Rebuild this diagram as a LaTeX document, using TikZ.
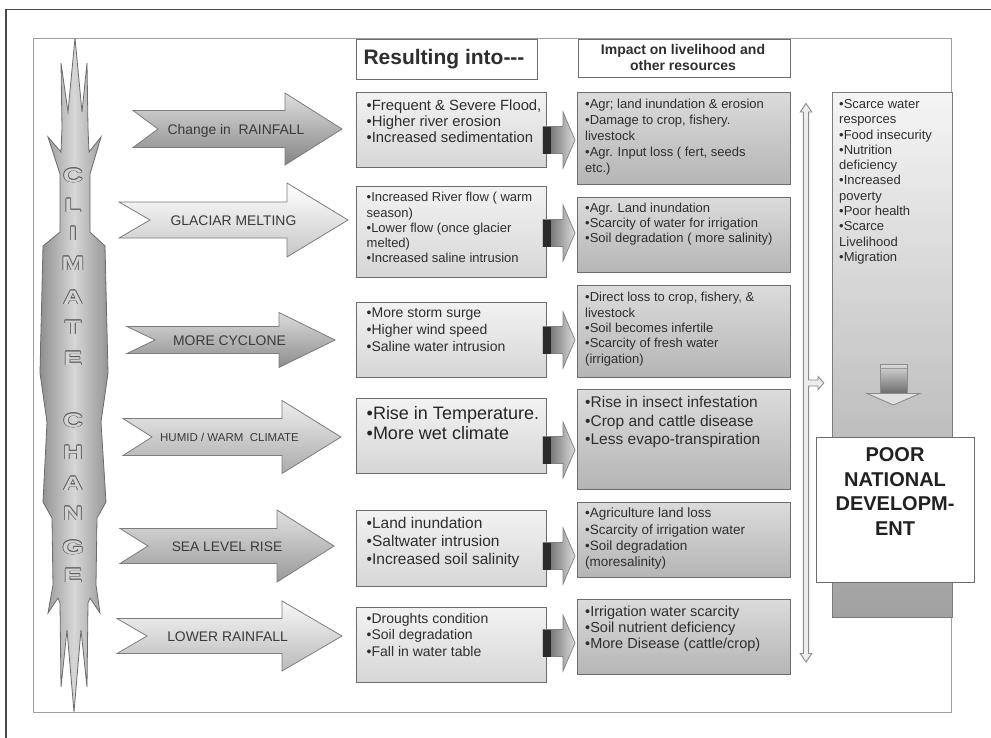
\documentclass[tikz,border=0pt]{standalone}
\usepackage{fontspec}
\setmainfont{Liberation Sans}
\newfontfamily\widebold[FakeStretch=1.4]{Liberation Sans Bold}
\usetikzlibrary{shadows}

\definecolor{ink}{HTML}{2E2E2E}
\definecolor{arrowink}{HTML}{3A3A3A}
\definecolor{frameout}{HTML}{4A4A4A}
\definecolor{framein}{HTML}{A0A0A0}
\definecolor{boxline}{HTML}{6C6C6C}
\definecolor{chevline}{HTML}{7C7C7C}
\definecolor{letterline}{HTML}{5E5E5E}
\definecolor{letterfill}{HTML}{D2D2D2}
\definecolor{spineline}{HTML}{8C8C8C}

% outlined capitals for the vertical title
\newcommand\hollowletter[1]{%
  \rlap{\kern-0.8pt\textcolor{letterline}{#1}}%
  \rlap{\kern0.8pt\textcolor{letterline}{#1}}%
  \rlap{\raisebox{0.8pt}{\textcolor{letterline}{#1}}}%
  \rlap{\raisebox{-0.8pt}{\textcolor{letterline}{#1}}}%
  \rlap{\kern0.6pt\raisebox{0.6pt}{\textcolor{letterline}{#1}}}%
  \rlap{\kern-0.6pt\raisebox{-0.6pt}{\textcolor{letterline}{#1}}}%
  \rlap{\kern0.6pt\raisebox{-0.6pt}{\textcolor{letterline}{#1}}}%
  \rlap{\kern-0.6pt\raisebox{0.6pt}{\textcolor{letterline}{#1}}}%
  \textcolor{letterfill}{#1}}
\newcommand\fsz[2]{\fontsize{#1}{#2}\selectfont}

% block arrow linking a cause box to its impact box (argument: centre y)
\newcommand\linkarrow[1]{%
  \draw[linkbody] (543,#1-13.5) -- (563,#1-13.5) -- (563,#1-28) -- (575,#1)
     -- (563,#1+28) -- (563,#1+13.5) -- (543,#1+13.5) -- cycle;
  \fill[linkdark] (543,#1-13.5) rectangle (550.5,#1+13.5);}

% notched chevron: left x, notch x, head x, tip x, centre y, shaft half, head half, style
\newcommand\chevron[8]{%
  \draw[chev,#8] (#1,#5-#6) -- (#3,#5-#6) -- (#3,#5-#7) -- (#4,#5) -- (#3,#5+#7)
     -- (#3,#5+#6) -- (#1,#5+#6) -- (#2,#5) -- cycle;}

\tikzset{
  outerframe/.style={draw=frameout, line width=1.4pt},
  innerframe/.style={draw=framein, line width=1pt},
  boxshadow/.style={drop shadow={shadow xshift=1.3pt, shadow yshift=-1.3pt, fill=black!45, opacity=.9}},
  headbox/.style={draw=boxline, fill=white, line width=0.8pt, inner sep=0pt, boxshadow},
  causebox/.style={draw=boxline, line width=0.9pt, top color=white!95!black, bottom color=white!84!black, inner sep=0pt, boxshadow},
  impactbox/.style={draw=boxline, line width=0.9pt, top color=white!86!black, bottom color=white!71!black, inner sep=0pt, boxshadow},
  resultcol/.style={draw=boxline!90, line width=0.9pt, top color=white!96!black, bottom color=white!63!black, inner sep=0pt},
  endbox/.style={draw=boxline, fill=white, line width=0.9pt, inner sep=0pt},
  bullets/.style={anchor=north west, inner sep=0pt, align=left, text=ink},
  chev/.style={draw=chevline, line width=0.8pt},
  chevtext/.style={anchor=base, inner sep=0pt, text=arrowink},
  spelled/.style={anchor=base, inner sep=0pt, font=\widebold\fsz{19.5}{20}},
  linkbody/.style={draw=white!50!black, line width=0.7pt, left color=white!35!black, right color=white!86!black},
  linkdark/.style={fill=white!17!black},
  hollowarrow/.style={draw=spineline, fill=white!93!black, line width=0.9pt},
  spike/.style={draw=white!42!black, line width=0.8pt, left color=white!56!black, right color=white!58!black, middle color=white!84!black},
}

\begin{document}
\begin{tikzpicture}[x=1pt,y=-1pt]
\fill[white] (0,0) rectangle (991,737);
\path[use as bounding box] (0,0) rectangle (991,737);
\clip (0,0) rectangle (991,737);

% frames
\draw[outerframe] (6,9.5) rectangle (1010,760);
\draw[innerframe] (33,38) rectangle (951.5,712);

% vertical "climate change" bolt
\path[spike] (75,38) -- (82,112) -- (87,63) -- (88,128) -- (89,152) -- (101,137)
  -- (90,174) -- (90,232) -- (105,246) -- (107,330) -- (108,373) -- (101,422)
  -- (106,502) -- (97,518) -- (96,585) -- (100,613) -- (90,598) -- (88,603)
  -- (87,687) -- (81,630) -- (74,712) -- (67,630) -- (61,687) -- (60,603)
  -- (58,598) -- (48,613) -- (53,585) -- (52,518) -- (43,502) -- (47,422)
  -- (40,373) -- (41,330) -- (43,246) -- (60,232) -- (60,174) -- (48,137)
  -- (61,152) -- (62,128) -- (61,63) -- (68,112) -- cycle;
\node[spelled] (l1) at (73,182) {\hollowletter{C}};
\node[spelled] (l2) at (73,212) {\hollowletter{L}};
\node[spelled] (l3) at (73,240) {\hollowletter{I}};
\node[spelled] (l4) at (73,270) {\hollowletter{M}};
\node[spelled] (l5) at (73,304) {\hollowletter{A}};
\node[spelled] (l6) at (73,334) {\hollowletter{T}};
\node[spelled] (l7) at (73,365) {\hollowletter{E}};
\node[spelled] (l8) at (73,427) {\hollowletter{C}};
\node[spelled] (l9) at (73,459) {\hollowletter{H}};
\node[spelled] (l10) at (73,490) {\hollowletter{A}};
\node[spelled] (l11) at (73,520) {\hollowletter{N}};
\node[spelled] (l12) at (73,554) {\hollowletter{G}};
\node[spelled] (l13) at (73,582) {\hollowletter{E}};

% driver chevrons
\chevron{133}{158}{285}{342}{129}{18.5}{36}{top color=white!87!black, bottom color=white!52!black}
\chevron{119}{150}{287}{348}{220}{18}{37}{top color=white, bottom color=white!78!black}
\chevron{127}{155}{279}{335}{340}{13.5}{27.5}{top color=white!86!black, bottom color=white!55!black}
\chevron{123}{152}{282}{341}{437}{18.5}{36.5}{top color=white!93!black, bottom color=white!67!black}
\chevron{120}{148}{277}{334}{546}{17.5}{36}{top color=white!88!black, bottom color=white!60!black}
\chevron{117}{147}{282}{342}{636}{17.5}{35}{top color=white!97!black, bottom color=white!73!black}
\node[chevtext, font=\fsz{13.9}{15}] (d1) at (236,134) {Change in~ RAINFALL};
\node[chevtext, font=\fsz{13.9}{15}] (d2) at (233.5,225) {GLACIAR MELTING};
\node[chevtext, font=\fsz{13.9}{15}] (d3) at (229.5,345) {MORE CYCLONE};
\node[chevtext, font=\fsz{11.5}{13}] (d4) at (229.5,441.1) {HUMID / WARM~ CLIMATE};
\node[chevtext, font=\fsz{13.8}{15}] (d5) at (227,551) {SEA LEVEL RISE};
\node[chevtext, font=\fsz{13.9}{15}] (d6) at (227.5,641) {LOWER RAINFALL};

% column headers
\node[headbox, minimum width=181pt, minimum height=40pt] (hres) at (446.5,59) {};
\node[anchor=base, inner sep=0pt, text=ink, font=\bfseries\fsz{21}{24}] (hrest) at (444,64.2) {Resulting into-{}-{}-};
\node[headbox, minimum width=212pt, minimum height=38pt] (himp) at (684,58) {};
\node[anchor=north, inner sep=0pt, align=center, text=ink, font=\bfseries\fsz{14}{16}] (himpt) at (683,43.8) {Impact on livelihood and\\other resources};

% resulting effects
\node[causebox, minimum width=190pt, minimum height=75pt] (r1) at (451,129.5) {};
\node[causebox, minimum width=190pt, minimum height=91pt] (r2) at (451,231.5) {};
\node[causebox, minimum width=190pt, minimum height=75pt] (r3) at (451,339.5) {};
\node[causebox, minimum width=190pt, minimum height=75pt] (r4) at (451,435.5) {};
\node[causebox, minimum width=190pt, minimum height=76pt] (r5) at (451,548) {};
\node[causebox, minimum width=190pt, minimum height=75pt] (r6) at (451,644.5) {};

\node[bullets, font=\fsz{14.8}{16}] (r1t) at (366.5,99.5) {•Frequent \& Severe Flood,\\•Higher river erosion\\•Increased sedimentation};
\node[bullets, font=\fsz{13}{15.25}] (r2t) at (366.5,192.2) {•Increased River flow ( warm\\season)\\•Lower flow (once glacier\\melted)\\•Increased saline intrusion};
\node[bullets, font=\fsz{14}{17}] (r3t) at (366.5,307.8) {•More storm surge\\•Higher wind speed\\•Saline water intrusion};
\node[bullets, font=\fsz{18}{20}, text=black!85] (r4t) at (366.5,406.3) {•Rise in Temperature.\\•More wet climate};
\node[bullets, font=\fsz{15.5}{18}] (r5t) at (366.5,517.3) {•Land inundation\\•Saltwater intrusion\\•Increased soil salinity};
\node[bullets, font=\fsz{14}{16.5}] (r6t) at (366.5,612.8) {•Droughts condition\\•Soil degradation\\•Fall in water table};

% impacts
\node[impactbox, minimum width=213pt, minimum height=92pt] (i1) at (683.5,138) {};
\node[impactbox, minimum width=213pt, minimum height=75pt] (i2) at (683.5,234.5) {};
\node[impactbox, minimum width=213pt, minimum height=92pt] (i3) at (683.5,331) {};
\node[impactbox, minimum width=213pt, minimum height=100pt] (i4) at (683.5,439) {};
\node[impactbox, minimum width=213pt, minimum height=75pt] (i5) at (683.5,539.5) {};
\node[impactbox, minimum width=213pt, minimum height=75pt] (i6) at (683.5,636.5) {};

\node[bullets, font=\fsz{13}{15.8}] (i1t) at (585,99.2) {•Agr; land inundation \& erosion\\•Damage to crop, fishery.\\livestock\\•Agr. Input loss ( fert, seeds\\etc.)};
\node[bullets, font=\fsz{13}{15}] (i2t) at (585,203.2) {•Agr. Land inundation\\•Scarcity of water for irrigation\\•Soil degradation ( more salinity)};
\node[bullets, font=\fsz{13}{15.3}] (i3t) at (585,292.2) {•Direct loss to crop, fishery, \&\\livestock\\•Soil becomes infertile\\•Scarcity of fresh water\\(irrigation)};
\node[bullets, font=\fsz{15.5}{18.5}] (i4t) at (585,396.3) {•Rise in insect infestation\\•Crop and cattle disease\\•Less evapo-transpiration};
\node[bullets, font=\fsz{13.5}{16.3}] (i5t) at (585,508) {•Agriculture land loss\\•Scarcity of irrigation water\\•Soil degradation\\(moresalinity)};
\node[bullets, font=\fsz{14.5}{16}] (i6t) at (585,605.6) {•Irrigation water scarcity\\•Soil nutrient deficiency\\•More Disease (cattle/crop)};

% links from effects to impacts
\linkarrow{140}
\linkarrow{233}
\linkarrow{340}
\linkarrow{450}
\linkarrow{556}
\linkarrow{643}

% collecting spine with branch to the outcome column
\draw[hollowarrow] (806,103.5) -- (811.8,112) -- (808.6,112) -- (808.6,380) -- (818,380)
  -- (818,376.5) -- (823.8,383) -- (818,389.5) -- (818,386) -- (808.6,386) -- (808.6,653.5)
  -- (811.8,653.5) -- (806,662) -- (800.2,653.5) -- (803.4,653.5) -- (803.4,112)
  -- (800.2,112) -- cycle;

% outcome column
\node[resultcol, minimum width=120pt, minimum height=525pt] (col) at (892,354.5) {};
\node[bullets, font=\fsz{13}{15.3}] (colt) at (839,99.2) {•Scarce water\\resporces\\•Food insecurity\\•Nutrition\\deficiency\\•Increased\\poverty\\•Poor health\\•Scarce\\Livelihood\\•Migration};
\fill[top color=white!86!black, bottom color=white!42!black] (880,364) rectangle (907,393.5);
\draw[white!55!black, line width=0.7pt] (880,364) rectangle (907,393.5);
\draw[white!60!black, line width=0.6pt] (880,368) -- (907,368);
\draw[hollowarrow, fill=white!88!black] (867,393.5) -- (920,393.5) -- (893.5,405) -- cycle;

\node[endbox, minimum width=158pt, minimum height=145pt] (poor) at (895,509.5) {};
\node[anchor=north, inner sep=0pt, align=center, text=black!87, font=\bfseries\fsz{20}{24.5}] (poort) at (895,447.6) {POOR\\NATIONAL\\DEVELOPM-\\ENT};
\end{tikzpicture}
\end{document}
